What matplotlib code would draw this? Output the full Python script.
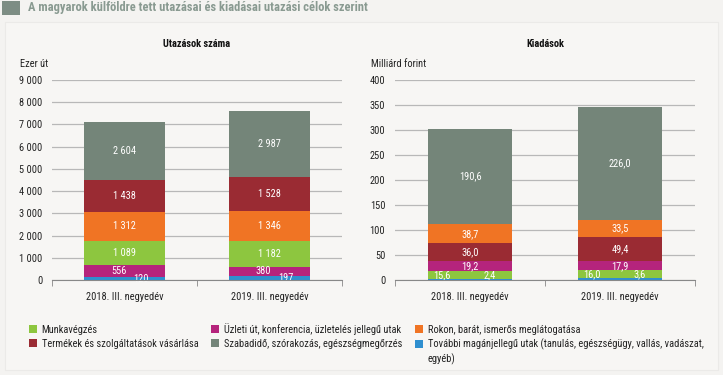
import matplotlib
matplotlib.use("Agg")
import matplotlib.pyplot as plt
from matplotlib.patches import Rectangle, Patch
from matplotlib import font_manager

# look for a narrow sans face, the original uses Arial Narrow
fonts = font_manager.fontManager.ttflist
names = {f.name for f in fonts}
stretch = "normal"
scale = 1.0
if "Liberation Sans Narrow" in names:
    fam = "Liberation Sans Narrow"
elif "Roboto Condensed" in names:
    fam = "Roboto Condensed"
elif any(f.name == "DejaVu Sans" and "ondensed" in str(f.stretch) for f in fonts):
    fam, stretch, scale = "DejaVu Sans", "condensed", 0.92
else:
    fam, scale = "Liberation Sans", 0.86
plt.rcParams["font.family"] = [fam, "DejaVu Sans"]
plt.rcParams["font.stretch"] = stretch
FS = 7.5 * scale

# data
periods = ["2018. III. negyedév", "2019. III. negyedév"]
purposes = ["Munkavégzés", "Üzleti út, konferencia, üzletelés jellegű utak",
            "Rokon, barát, ismerős meglátogatása", "Termékek és szolgáltatások vásárlása",
            "Szabadidő, szórakozás, egészségmegőrzés",
            "További magánjellegű utak (tanulás, egészségügy, vallás, vadászat,"]
purpose_cont = "egyéb)"   # second line of the last legend entry
colors = ["#8dc63f", "#b5247c", "#f07424", "#9a2b33", "#748579", "#2f8fcf"]

# trips (thousand), stacked bottom->top
trips_order = [5, 1, 0, 2, 3, 4]
trips = {
    0: [1089, 1182],
    1: [556, 380],
    2: [1312, 1346],
    3: [1438, 1528],
    4: [2604, 2987],
    5: [120, 197],
}
# spending (billion HUF), stacked bottom->top
spend_order = [5, 0, 1, 3, 2, 4]
spend = {
    0: [15.6, 16.0],
    1: [19.2, 17.9],
    2: [38.7, 33.5],
    3: [36.0, 49.4],
    4: [190.6, 226.0],
    5: [2.4, 3.6],
}

bg = "#f4f3f1"
fig = plt.figure(figsize=(7.23, 3.75), dpi=100, facecolor=bg)
fig.patches.append(Rectangle((5 / 723, 5 / 375), 713 / 723, 348 / 375, transform=fig.transFigure,
                             facecolor="#f7f6f4", edgecolor="#ebeae8", lw=0.8, zorder=-5))
fig.patches.append(Rectangle((2 / 723, 1 - 15 / 375), 18 / 723, 14 / 375, transform=fig.transFigure,
                             facecolor="#7d8d84", edgecolor="none", zorder=-4))
fig.text(28 / 723, 1 - 8 / 375, "A magyarok külföldre tett utazásai és kiadásai utazási célok szerint",
         fontsize=9.0 * scale, fontweight="bold", color="#899a91", va="center", ha="left")


def fmt_space(v):
    return f"{int(v):,}".replace(",", " ")


def fmt_comma(v):
    return f"{v:.1f}".replace(".", ",")


def draw(ax, data, order, ymax, step, fmt, title, unit, unit_x):
    x = [0, 1]
    bottom = [0, 0]
    mids = {}
    for k in order:
        vals = data[k]
        ax.bar(x, vals, width=0.56, bottom=bottom, color=colors[k], zorder=3)
        mids[k] = [b + v / 2 for b, v in zip(bottom, vals)]
        bottom = [b + v for b, v in zip(bottom, vals)]
    labels = {}
    for k in order:
        for i in x:
            labels[(k, i)] = ax.text(i, mids[k][i], fmt(data[k][i]), ha="center", va="center",
                                     color="white", fontsize=FS, zorder=4)
    ax.set_xlim(-0.5, 1.5)
    ax.set_ylim(0, ymax)
    ax.set_yticks(range(0, ymax + 1, step))
    ax.set_yticklabels([fmt_space(t) for t in range(0, ymax + 1, step)])
    ax.set_xticks(x)
    ax.set_xticklabels(periods)
    ax.set_xticks([-0.5, 0.5, 1.5], minor=True)
    ax.tick_params(axis="x", which="major", length=0, pad=9, labelsize=FS, colors="#222222")
    ax.tick_params(axis="x", which="minor", length=4, color="#888888", direction="out")
    ax.tick_params(axis="y", length=0, pad=7, labelsize=FS, colors="#222222")
    ax.grid(axis="y", color="#b8b8b8", lw=0.9, zorder=1)
    ax.set_facecolor("none")
    for s in ["top", "right", "left"]:
        ax.spines[s].set_visible(False)
    ax.spines["bottom"].set_color("#888888")
    ax.spines["bottom"].set_zorder(5)
    ax.set_title(title, fontsize=FS, fontweight="bold", pad=24, color="#111111")
    ax.text(unit_x, 1.055, unit, transform=ax.transAxes, fontsize=FS, ha="left", va="bottom",
            color="#222222")
    return labels, mids


ax1 = fig.add_axes([52 / 723, 1 - 280 / 375, 290 / 723, 200 / 375])
lab1, mid1 = draw(ax1, trips, trips_order, 9000, 1000, fmt_space, "Utazások száma", "Ezer út", -0.11)
for i in (0, 1):
    lab1[(1, i)].set_x(i - 0.04)
    lab1[(5, i)].set_x(i + 0.11)

ax2 = fig.add_axes([395 / 723, 1 - 280 / 375, 300 / 723, 200 / 375])
lab2, mid2 = draw(ax2, spend, spend_order, 400, 50, fmt_comma, "Kiadások", "Milliárd forint", -0.08)
# the tiny blue segment is labelled beside the green one
for i in (0, 1):
    lab2[(0, i)].set_x(i - 0.19)
    lab2[(5, i)].set_x(i + 0.13)
    lab2[(5, i)].set_y(mid2[0][i])

handles = [Patch(facecolor=c, edgecolor="none") for c in colors]
col_order = [0, 3, 1, 4, 2, 5]
leg = fig.legend([handles[i] for i in col_order], [purposes[i] for i in col_order],
                 loc="upper left", bbox_to_anchor=(29 / 723, 1 - 323 / 375), ncol=3, frameon=False,
                 fontsize=FS, handlelength=0.75, handleheight=0.75, handletextpad=0.45,
                 columnspacing=1.25, labelspacing=0.35, borderaxespad=0, borderpad=0,
                 labelcolor="#222222")

# wrapped part of the last entry, under its text
fig.canvas.draw()
bb = leg.get_texts()[-1].get_window_extent().transformed(fig.transFigure.inverted())
fig.text(bb.x0, bb.y0 - 14.5 / 375, purpose_cont, fontsize=FS, color="#222222", ha="left", va="bottom")

fig.savefig("out.png", dpi=100, facecolor=bg)
